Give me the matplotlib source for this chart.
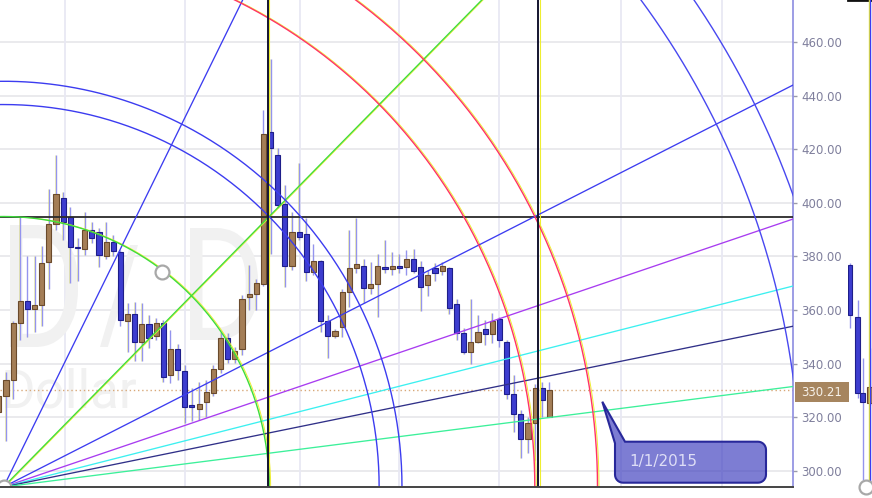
import numpy as np
import matplotlib
matplotlib.use("Agg")
import matplotlib.pyplot as plt
from matplotlib.transforms import offset_copy, IdentityTransform, Affine2D
from matplotlib.textpath import TextPath
from matplotlib.patches import PathPatch, Rectangle, Polygon
from matplotlib.font_manager import FontProperties

W_PX, H_PX, DPI = 872, 498, 100

# ---------------- data ----------------
opens = [322, 328, 334, 355, 363.5, 360.3, 362, 378, 392, 401.7, 394.6, 383.6, 382.7, 390, 389,
         380.3, 385.5, 381.7, 356, 358.4, 348, 354.7, 350.3, 355, 335.8, 345.4, 337.4, 324.2, 323.1,
         325.6, 329.2, 337.9, 349.7, 341.6, 345.5, 364.8, 365.9, 369.6, 426.5, 418, 399.5, 376.4,
         389.3, 388.3, 374.1, 378.3, 355.9, 350.4, 353.6, 366.6, 375.6, 376.4, 368.1, 369.6, 375.4,
         375.3, 375.9, 375.9, 378.9, 376.2, 369.4, 375.8, 374.7, 375.6, 362.2, 351.3, 344.4, 348.1,
         352.8, 350.9, 356.6, 348, 328.6, 321.1, 311.8, 317.8, 330.8, 320.2]
highs = [345, 337, 356, 395, 380, 380, 384, 405, 418, 404, 398.6, 387, 396.7, 393, 390.6,
         393, 388, 382.4, 362.5, 363, 362.7, 358, 357, 356.3, 352.6, 347.4, 339.5, 331, 333.3,
         334, 339.5, 352, 351.6, 346.3, 365.6, 376.8, 371.5, 434.6, 453.7, 420.4, 406.7, 396.7,
         414.8, 394.2, 384.7, 378.7, 358.2, 353, 368, 390, 394.5, 379, 378, 381, 386,
         381.8, 381, 382.4, 382.7, 378.4, 375, 377.5, 377.8, 376.2, 364, 353.2, 364, 358,
         356.3, 358.8, 357.5, 348.9, 335.8, 322.7, 320.2, 332.6, 333.3, 333.3]
lows = [315, 311, 327, 349, 350, 352, 354, 368, 390, 386, 370, 371, 380.6, 385, 376,
        379, 380, 354, 344.5, 341, 341, 346, 349, 333.3, 332.7, 334, 318, 318.5, 319,
        320, 328, 336.4, 340.2, 340.2, 343.3, 360, 360, 369, 381, 398, 368.7, 375,
        386, 371, 373, 352, 342, 349.6, 350, 361, 374, 362.5, 366, 357.5, 374,
        373, 374, 373, 373.8, 359.8, 365.3, 371, 373, 358.5, 349, 343.6, 340, 347.6,
        347, 347.6, 346.3, 327, 314.6, 304.7, 306.6, 304, 320.2, 320]
closes = [328, 334, 355, 363.5, 360.3, 361.8, 377.4, 392, 403.3, 393, 383.4, 383, 389.9, 387, 380.7,
          385.5, 382, 356.3, 358.5, 348, 354.7, 349.7, 355.1, 335.2, 345.4, 337.7, 323.7, 323.8, 325,
          329.3, 337.9, 349.7, 341.6, 344.7, 364, 365.9, 370, 425.6, 420.4, 399.2, 376.4, 389.3,
          387.4, 374.1, 378.3, 355.9, 350.4, 352.3, 366.6, 375.6, 377.1, 368.1, 369.6, 376.6, 375.2,
          376.6, 375.7, 378.9, 374.7, 368.7, 373, 373.7, 376.4, 360.7, 351.3, 344.4, 348.1, 351.8,
          350.9, 355.9, 348.9, 328.6, 321.2, 311.8, 318, 330.8, 326.5, 330.21]

last_price = 330.21
y_ticks = [300, 320, 340, 360, 380, 400, 420, 440, 460]
y_tick_labels = ["300.00", "320.00", "340.00", "360.00", "380.00", "400.00", "420.00", "440.00", "460.00"]
grid_x = [9.2, 26.0, 42.05, 55.95, 69.95, 87.0, 101.1]

# Gann drawing
gann_origin = (0.65, 294.0)
gann_box = (37.15, 100.9)
fan_ratios = [2, 1, 1 / 2, 1 / 3, 1 / 4, 1 / 5, 1 / 8]
fan_colors = ["#3c3cf0", "#3ddc3d", "#3c3cf0", "#a83cf0", "#3cf0f0", "#303088", "#3cf09a"]
fan_shadow = [False, True, False, False, False, False, False]
arc_scales = [1.0, 1.414, 1.5, 2.0, 2.236, 3.0, 3.162]
arc_colors = ["#3ddc3d", "#3c3cf0", "#3c3cf0", "#ff3366", "#ff3366", "#4848f0", "#4848f0"]
arc_shadow = [True, False, False, True, True, False, False]
level_y = 394.9
vline_x = [37.57, 75.45]
arc_handle = (22.82, 374.2)
note_text = "1/1/2015"
watermark_top = ["D", "/", "D"]
watermark_sub = "Dollar"

# second (cut-off) panel
p2_x = [0.28, 1.33, 2.03, 3.01]
p2_open = [376.8, 357.4, 329.1, 325.3]
p2_high = [377.6, 363.8, 342.1, 345.9]
p2_low = [353.3, 327.2, 296.6, 324.6]
p2_close = [358.2, 329.1, 325.7, 331.3]

UP_FILL, UP_EDGE = "#a47e57", "#6a4a2c"
DN_FILL, DN_EDGE = "#3d3dcf", "#1e1e8a"
WICK = "#9494ee"
YEL = "#eeee30"
WM = "#f1f1f1"

# ---------------- figure ----------------
fig = plt.figure(figsize=(W_PX / DPI, H_PX / DPI), dpi=DPI)
fig.patch.set_facecolor("white")
ax = fig.add_axes([0, 11 / H_PX, 793.3 / W_PX, 487 / H_PX])
ax.set_facecolor("white")

X_LIM = (0.16, 111.1)
Y_LIM = (294.0, 475.67)

# gridlines
for gy in y_ticks:
    ax.axhline(gy, color="#e8e8ec", lw=1.3, zorder=0.5)
for gx in grid_x:
    ax.axvline(gx, color="#e8e8f3", lw=1.3, zorder=0.5)


def px2disp(x, y):
    return x, H_PX - y


# watermark glyphs fitted to pixel boxes
def glyph(ch, box, color=WM):
    tp = TextPath((0, 0), ch, size=100, prop=FontProperties(family="Roboto"))
    ext = tp.get_extents()
    x0, y0, x1, y1 = box
    sx = (x1 - x0) / ext.width
    sy = (y1 - y0) / ext.height
    tr = Affine2D().translate(-ext.x0, -ext.y0).scale(sx, sy).translate(x0, H_PX - y1)
    patch = PathPatch(tr.transform_path(tp), facecolor=color, edgecolor="none",
                      transform=IdentityTransform(), zorder=0.8)
    patch.set_clip_box(ax.bbox)
    ax.add_artist(patch)


for ch, box in zip(watermark_top, [(10, 225, 78, 347), (100, 245, 138, 347), (190, 228, 258, 340)]):
    glyph(ch, box)
ax.text(1, H_PX - 407, watermark_sub, transform=IdentityTransform(), fontsize=38,
        family="Roboto", color=WM, va="baseline", ha="left", zorder=0.8, clip_on=True)

# price line
ax.axhline(last_price, color="#d8a878", lw=1.0, ls=(0, (1, 2)), zorder=1)

# candles
xs = np.arange(len(opens))
o = np.array(opens); c = np.array(closes); h = np.array(highs); l = np.array(lows)
up = c >= o
bottoms = np.minimum(o, c)
heights = np.maximum(np.abs(c - o), 0.7)
shadow_tr = offset_copy(ax.transData, fig=fig, x=0.9, y=0, units="dots")

wl = ax.vlines(xs, l, h, colors=YEL, lw=0.6, zorder=2.9, alpha=0.45)
wl.set_transform(offset_copy(ax.transData, fig=fig, x=-0.9, y=0, units="dots"))
ax.vlines(xs, l, h, colors=WICK, lw=1.0, zorder=3)
bw = 0.72
sb = ax.bar(xs, heights, bottom=bottoms, width=bw, color=YEL, edgecolor="none", zorder=3.1,
            alpha=0.8)
for p in sb.patches:
    p.set_transform(shadow_tr)
ax.bar(xs, heights, bottom=bottoms, width=bw,
       color=[UP_FILL if u else DN_FILL for u in up],
       edgecolor=[UP_EDGE if u else DN_EDGE for u in up], linewidth=0.8, zorder=3.2)

# horizontal level
ax.axhline(level_y, color="#2a2a2a", lw=1.3, zorder=5)

# vertical lines (dark with yellow edge)
for vx in vline_x:
    ln = ax.axvline(vx, color=YEL, lw=0.8, zorder=5)
    ln.set_transform(offset_copy(ax.get_xaxis_transform(), fig=fig, x=1.4, y=0, units="dots"))
    ax.axvline(vx, color="#141430", lw=1.4, zorder=5.1)

# Gann fan
gx0, gy0 = gann_origin
bwid, bhgt = gann_box
xe = np.array([gx0, 130.0])
for r, col, sh in zip(fan_ratios, fan_colors, fan_shadow):
    ye = gy0 + (bhgt / bwid) * r * (xe - gx0)
    if sh:
        ax.plot(xe, ye, color=YEL, lw=0.7, zorder=4.9,
                transform=offset_copy(ax.transData, fig=fig, x=1.2, y=0, units="dots"))
    ax.plot(xe, ye, color=col, lw=0.95, zorder=5)

# Gann arcs
t = np.linspace(0, np.pi, 600)
for k, col, sh in zip(arc_scales, arc_colors, arc_shadow):
    axx = gx0 + k * bwid * np.cos(t)
    ayy = gy0 + k * bhgt * np.sin(t)
    if sh:
        ax.plot(axx, ayy, color=YEL, lw=0.7, zorder=4.9,
                transform=offset_copy(ax.transData, fig=fig, x=1.5, y=0, units="dots"))
    ax.plot(axx, ayy, color=col, lw=1.0, zorder=5)

# handles
ax.plot([arc_handle[0]], [arc_handle[1]], marker="o", ms=10, mfc="white", mec="#a8a8a8",
        mew=1.6, zorder=6)
ax.plot([gx0], [gy0], marker="o", ms=10, mfc="white", mec="#a8a8a8", mew=1.6, zorder=6)

ax.set_xlim(*X_LIM)
ax.set_ylim(*Y_LIM)

# axes styling
for s in ("left", "top"):
    ax.spines[s].set_visible(False)
ax.spines["right"].set_color("#8c8ce0")
ax.spines["right"].set_linewidth(1.2)
ax.spines["bottom"].set_color("#444444")
ax.spines["bottom"].set_linewidth(1.4)
ax.spines["bottom"].set_zorder(7)
ax.set_xticks([])
ax.yaxis.tick_right()
ax.set_yticks(y_ticks)
ax.set_yticklabels(y_tick_labels)
ax.tick_params(axis="y", length=3, width=1, color="#9a9aaa", labelcolor="#7f7f9c",
               labelsize=8.5, pad=2.5)


# callout "1/1/2015"
def rounded(cx, cy, r, a0, a1, n=8):
    aa = np.linspace(np.radians(a0), np.radians(a1), n)
    return [(cx + r * np.cos(a), cy + r * np.sin(a)) for a in aa]


L, R, T, B, rr = 615, 766, 441.7, 482.7, 8
pts = [(602.3, 401.7), (625, T), (R - rr, T)]
pts += rounded(R - rr, T + rr, rr, -90, 0)
pts += [(R, B - rr)]
pts += rounded(R - rr, B - rr, rr, 0, 90)
pts += [(L + rr, B)]
pts += rounded(L + rr, B - rr, rr, 90, 180)
pts += [(L, 443.3)]
pts_d = [px2disp(x, y) for x, y in pts]
callout = Polygon(pts_d, closed=True, facecolor=(0.25, 0.25, 0.75, 0.68),
                  edgecolor="#28289a", lw=1.5, transform=IdentityTransform(), zorder=8)
fig.patches.append(callout)
fig.text(629 / W_PX, 1 - 461 / H_PX, note_text, fontsize=11, color="#dedef6",
         ha="left", va="center", zorder=9)

# second (cut-off) panel
ax2 = fig.add_axes([848 / W_PX, 11 / H_PX, 24 / W_PX, 487 / H_PX])
ax2.set_facecolor("none")
p2o = np.array(p2_open); p2c = np.array(p2_close)
up2 = p2c >= p2o
ax2.vlines(p2_x, p2_low, p2_high, colors=WICK, lw=1.0, zorder=3)
ax2.bar(p2_x, np.maximum(np.abs(p2c - p2o), 0.7), bottom=np.minimum(p2o, p2c), width=0.62,
        color=[UP_FILL if u else DN_FILL for u in up2],
        edgecolor=[UP_EDGE if u else DN_EDGE for u in up2], linewidth=0.8, zorder=3.2)
ax2.axvline(2.9, color=YEL, lw=1.0, zorder=4)
ax2.axvline(3.05, color="#3c3cf0", lw=1.0, zorder=4.1)
ax2.plot([2.55], [gy0], marker="o", ms=10, mfc="white", mec="#a8a8a8", mew=1.6, zorder=6,
         clip_on=False)
ax2.set_xlim(0, 24 / 7.15)
ax2.set_ylim(*Y_LIM)
for s in ("left", "right", "bottom"):
    ax2.spines[s].set_visible(False)
ax2.spines["top"].set_color("#111111")
ax2.spines["top"].set_linewidth(2.0)
ax2.set_xticks([]); ax2.set_yticks([])

# last price label on the right axis
fig.patches.append(Rectangle(px2disp(795, 401.7), 54, 19.4, facecolor="#a6855f",
                             edgecolor="none", transform=IdentityTransform(), zorder=10))
fig.text(801 / W_PX, 1 - 392 / H_PX, f"{last_price:.2f}", fontsize=8.5, color="#f7f2ea",
         ha="left", va="center", zorder=11)

fig.savefig("out.png", dpi=DPI)
